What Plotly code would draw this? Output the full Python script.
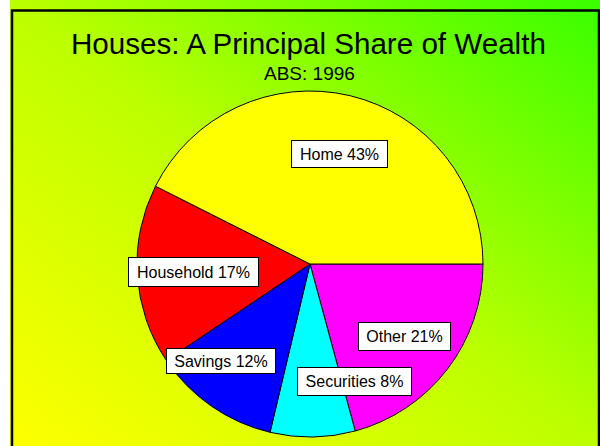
import plotly.graph_objects as go

# ---- data ----
labels = ["Home", "Household", "Savings", "Securities", "Other"]
values = [43, 17, 12, 8, 21]
label_texts = ["Home 43%", "Household 17%", "Savings 12%", "Securities 8%", "Other 21%"]
slice_colors = ["#ffff00", "#ff0000", "#0000ff", "#00ffff", "#ff00ff"]

title_text = "Houses: A Principal Share of Wealth"
subtitle_text = "ABS: 1996"

# ---- layout helpers (pixels in a 600x446 canvas) ----
W, H = 600, 446
# label box centers and sizes (px)
box_centers = [(339.2, 154.0), (193.8, 271.7), (220.8, 360.8), (354.8, 381.8), (404.0, 336.0)]
box_sizes = [(97, 28), (131, 30), (110, 26), (115, 29), (93, 29)]

FONT = "Liberation Sans, Arial, sans-serif"

fig = go.Figure()

# background gradient (yellow bottom-left -> green top-right)
bg_z = [[0.0, 0.5], [0.5, 1.0]]
fig.add_trace(go.Heatmap(
    z=bg_z, x=[0, 1], y=[0, 1], zsmooth="best", showscale=False, hoverinfo="skip",
    colorscale=[[0, "#ffff00"], [0.5, "#bcff00"], [1, "#38ff00"]],
    xaxis="x", yaxis="y",
))

# Home starts at 3 o'clock and slices run counterclockwise:
# drawn clockwise from 3 o'clock in reverse order.
fig.add_trace(go.Pie(
    labels=labels[::-1], values=values[::-1], sort=False, direction="clockwise", rotation=90,
    marker=dict(colors=slice_colors[::-1], line=dict(color="black", width=1)),
    textinfo="none", hoverinfo="skip", showlegend=False,
    domain=dict(x=[137 / W, 483 / W], y=[1 - 437 / H, 1 - 91 / H]),
))

annotations = []
for txt, (cx, cy), (bw, bh) in zip(label_texts, box_centers, box_sizes):
    annotations.append(dict(
        text=txt, xref="paper", yref="paper", x=cx / W, y=1 - cy / H,
        xanchor="center", yanchor="middle", showarrow=False,
        font=dict(family=FONT, size=16, color="black"),
        bgcolor="white", bordercolor="black", borderwidth=1, borderpad=0,
        width=bw - 2, height=bh - 2,
    ))

annotations.append(dict(
    text=title_text, xref="paper", yref="paper", x=308 / W, y=1 - 44.0 / H,
    xanchor="center", yanchor="middle", showarrow=False,
    font=dict(family=FONT, size=29.6, color="black"),
))
annotations.append(dict(
    text=subtitle_text, xref="paper", yref="paper", x=309 / W, y=1 - 73.5 / H,
    xanchor="center", yanchor="middle", showarrow=False,
    font=dict(family=FONT, size=19, color="black"),
))

fig.update_layout(
    width=W, height=H, autosize=False,
    margin=dict(l=0, r=0, t=0, b=0, pad=0),
    paper_bgcolor="white", plot_bgcolor="white",
    xaxis=dict(domain=[10 / W, 1], range=[0, 1], visible=False, fixedrange=True),
    yaxis=dict(domain=[0, 1], range=[0, 1], visible=False, fixedrange=True),
    annotations=annotations,
    shapes=[dict(type="rect", xref="paper", yref="paper",
                 x0=12 / W, x1=599 / W, y0=-0.05, y1=1 - 10.5 / H,
                 line=dict(color="black", width=2.5), fillcolor="rgba(0,0,0,0)")],
    showlegend=False,
)

fig.write_html("out.html", config={"displayModeBar": False},
               post_script="document.body.style.margin='0px';")
